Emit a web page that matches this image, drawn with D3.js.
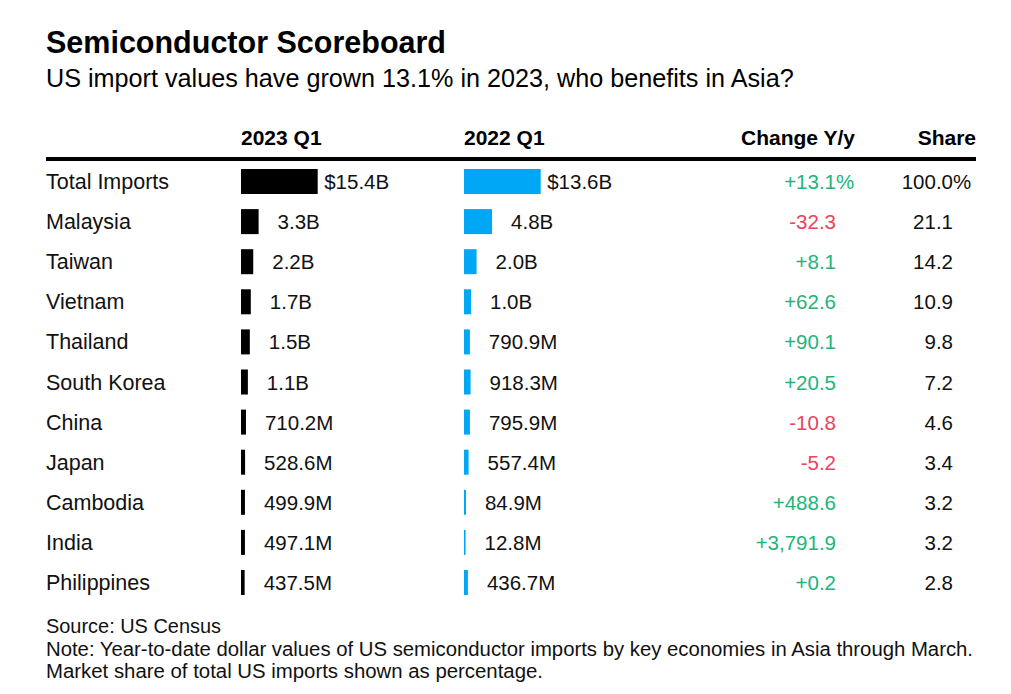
<!DOCTYPE html>
<html>
<head>
<meta charset="utf-8">
<script src="https://cdn.jsdelivr.net/npm/d3@7"></script>
<style>
  html, body { margin: 0; padding: 0; background: #fff; }
  svg { display: block; font-family: "Liberation Sans", Arial, Helvetica, sans-serif; }
</style>
</head>
<body>
<svg id="chart" width="1011" height="694"></svg>
<script>
// ---- Data ----
const countries = ["Total Imports", "Malaysia", "Taiwan", "Vietnam", "Thailand", "South Korea",
                   "China", "Japan", "Cambodia", "India", "Philippines"];
// values in billions of US$
const values2023 = [15.4, 3.3, 2.2, 1.7, 1.5, 1.1, 0.7102, 0.5286, 0.4999, 0.4971, 0.4375];
const values2022 = [13.6, 4.8, 2.0, 1.0, 0.7909, 0.9183, 0.7959, 0.5574, 0.0849, 0.0128, 0.4367];
const changeYY   = [13.1, -32.3, 8.1, 62.6, 90.1, 20.5, -10.8, -5.2, 488.6, 3791.9, 0.2];
const sharePct   = [100.0, 21.1, 14.2, 10.9, 9.8, 7.2, 4.6, 3.4, 3.2, 3.2, 2.8];
const headers    = ["2023 Q1", "2022 Q1", "Change Y/y", "Share"];

const title = "Semiconductor Scoreboard";
const subtitle = "US import values have grown 13.1% in 2023, who benefits in Asia?";
const source = "Source: US Census";
const notes = ["Note: Year-to-date dollar values of US semiconductor imports by key economies in Asia through March.",
               "Market share of total US imports shown as percentage."];

// ---- Layout ----
const svg = d3.select("#chart");
const left = 46, right = 976;
const col2023 = 241, col2022 = 464, colChange = 836, colShare = 953;
const barMax = 76.7, barMin = 1.5, barH = 25;
const colors = { c2023: "#000000", c2022: "#00a7f5", pos: "#22b57a", neg: "#e8435f", text: "#111111" };

const y = d3.scalePoint().domain(countries).range([181.5, 582.5]);

const x2023 = d3.scaleLinear().domain([0, d3.max(values2023)]).range([barMin, barMax]);
const x2022 = d3.scaleLinear().domain([0, d3.max(values2022)]).range([barMin, barMax]);

function fmtVal(v, i) {
  let s = v >= 1 ? d3.format(".1f")(v) + "B" : d3.format(".1f")(v * 1000) + "M";
  return i === 0 ? "$" + s : s;
}
const fmtChange = v => (v > 0 ? "+" : "") + d3.format(",.1f")(v).replace("−", "-");
const fmtShare = v => d3.format(".1f")(v);

// Title & subtitle
svg.append("text").attr("x", left).attr("y", 53)
  .attr("font-size", 30.5).attr("font-weight", "bold").attr("fill", "#000").text(title);
svg.append("text").attr("x", left).attr("y", 87)
  .attr("font-size", 25.2).attr("fill", "#000").text(subtitle);

// Headers
const hy = 145;
svg.append("text").attr("x", col2023).attr("y", hy).attr("font-size", 21).attr("font-weight", "bold").text(headers[0]);
svg.append("text").attr("x", col2022).attr("y", hy).attr("font-size", 21).attr("font-weight", "bold").text(headers[1]);
svg.append("text").attr("x", 855).attr("y", hy).attr("text-anchor", "end").attr("font-size", 21).attr("font-weight", "bold").text(headers[2]);
svg.append("text").attr("x", right).attr("y", hy).attr("text-anchor", "end").attr("font-size", 21).attr("font-weight", "bold").text(headers[3]);

// Header rule
svg.append("line").attr("x1", left).attr("x2", right).attr("y1", 159).attr("y2", 159)
  .attr("stroke", "#000").attr("stroke-width", 4);

const rows = svg.append("g").selectAll("g").data(countries).join("g")
  .attr("transform", d => `translate(0,${y(d)})`);

// Country names
rows.append("text").attr("x", left).attr("y", 7.5).attr("font-size", 21.5)
  .attr("fill", colors.text).text(d => d);

// 2023 bars + labels
rows.append("rect").attr("x", col2023).attr("y", -barH / 2).attr("height", barH)
  .attr("width", (d, i) => x2023(values2023[i])).attr("fill", colors.c2023);
rows.append("text")
  .attr("x", (d, i) => col2023 + x2023(values2023[i]) + (i === 0 ? 6.5 : 19))
  .attr("y", 7.5).attr("font-size", 20.5).attr("fill", colors.text)
  .text((d, i) => fmtVal(values2023[i], i));

// 2022 bars + labels
rows.append("rect").attr("x", col2022).attr("y", -barH / 2).attr("height", barH)
  .attr("width", (d, i) => x2022(values2022[i])).attr("fill", colors.c2022);
rows.append("text")
  .attr("x", (d, i) => col2022 + x2022(values2022[i]) + (i === 0 ? 6.5 : 19))
  .attr("y", 7.5).attr("font-size", 20.5).attr("fill", colors.text)
  .text((d, i) => fmtVal(values2022[i], i));

// Change Y/y
rows.append("text").attr("x", colChange).attr("y", 7.5).attr("text-anchor", "end")
  .attr("font-size", 20.5).attr("fill", (d, i) => changeYY[i] >= 0 ? colors.pos : colors.neg)
  .text((d, i) => fmtChange(changeYY[i]));
rows.filter((d, i) => i === 0).append("text").attr("x", colChange).attr("y", 7.5)
  .attr("font-size", 20.5).attr("fill", changeYY[0] >= 0 ? colors.pos : colors.neg).text("%");

// Share
rows.append("text").attr("x", colShare).attr("y", 7.5).attr("text-anchor", "end")
  .attr("font-size", 20.5).attr("fill", colors.text)
  .text((d, i) => fmtShare(sharePct[i]));
rows.filter((d, i) => i === 0).append("text").attr("x", colShare).attr("y", 7.5)
  .attr("font-size", 20.5).attr("fill", colors.text).text("%");

// Footer
svg.append("text").attr("x", left).attr("y", 633).attr("font-size", 19.5)
  .attr("textLength", 175).attr("lengthAdjust", "spacingAndGlyphs").attr("fill", colors.text).text(source);
svg.append("text").attr("x", left).attr("y", 656).attr("font-size", 19.5)
  .attr("textLength", 927).attr("lengthAdjust", "spacingAndGlyphs").attr("fill", colors.text).text(notes[0]);
svg.append("text").attr("x", left).attr("y", 678).attr("font-size", 19.5)
  .attr("textLength", 497).attr("lengthAdjust", "spacingAndGlyphs").attr("fill", colors.text).text(notes[1]);
</script>
</body>
</html>
